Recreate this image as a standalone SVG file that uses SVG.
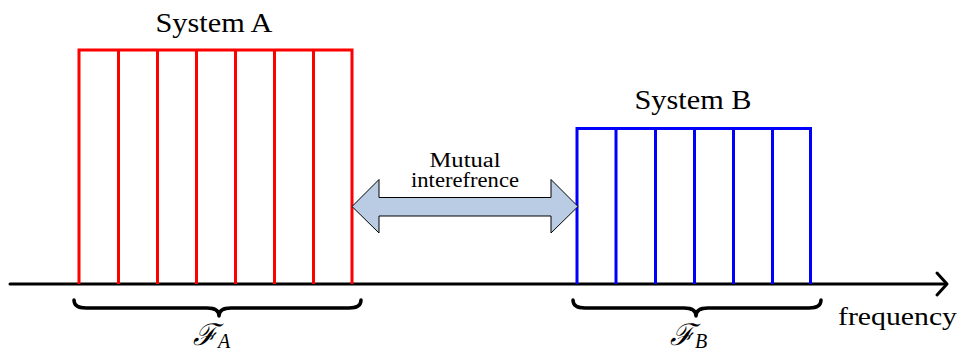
<svg xmlns="http://www.w3.org/2000/svg" width="960" height="355" viewBox="0 0 960 355">
<style>
.t{font-family:"Liberation Serif","DejaVu Serif",serif;fill:#000}
.ra{fill:none;stroke:#ff0000;stroke-width:3}
.rb{fill:none;stroke:#0000ff;stroke-width:3}
.br{fill:none;stroke:#000;stroke-width:3.5;stroke-linecap:round;stroke-linejoin:round}
.ax{fill:none;stroke:#000;stroke-width:3;stroke-linecap:round;stroke-linejoin:round}
</style>
<rect width="960" height="355" fill="#fff"/>
<g id="connectors">
<path class="ax" d="M10,284 H946"/>
<path class="ax" d="M937,273 L947,284 L937,295"/>
</g>
<g id="systemA">
<path class="ra" d="M79,284 V50 H352 V284 M118.5,50 V284 M157.5,50 V284 M196.5,50 V284 M235.5,50 V284 M274.5,50 V284 M313.5,50 V284"/>
<text class="t" x="214" y="32" font-size="27" text-anchor="middle" textLength="117" lengthAdjust="spacingAndGlyphs">System A</text>
</g>
<g id="systemB">
<path class="rb" d="M577,284 V128.5 H810.5 V284 M616,128.5 V284 M655.5,128.5 V284 M694.5,128.5 V284 M733.5,128.5 V284 M772.5,128.5 V284"/>
<text class="t" x="693" y="109" font-size="27" text-anchor="middle" textLength="117" lengthAdjust="spacingAndGlyphs">System B</text>
</g>
<g id="interference">
<path d="M352,206.5 L379,179.5 V197.5 H551 V179.5 L578,206.5 L551,233 V216 H379 V233 Z" fill="#b9cce4" stroke="#000" stroke-width="1"/>
<text class="t" x="465" y="167" font-size="20" text-anchor="middle" textLength="71" lengthAdjust="spacingAndGlyphs">Mutual</text>
<text class="t" x="465" y="187" font-size="20" text-anchor="middle" textLength="108" lengthAdjust="spacingAndGlyphs">interefrence</text>
</g>
<g id="braceA">
<path class="br" d="M74,300 Q74,308 86,308 H207 Q219,308 219,316 Q219,308 231,308 H349 Q361,308 361,300"/>
<text class="t" x="193" y="345" font-size="30" font-style="italic">ℱ<tspan font-size="20" dy="3">A</tspan></text>
</g>
<g id="braceB">
<path class="br" d="M573,300 Q573,308 585,308 H684 Q696,308 696,316 Q696,308 708,308 H809 Q821,308 821,300"/>
<text class="t" x="670" y="345" font-size="30" font-style="italic">ℱ<tspan font-size="20" dy="3">B</tspan></text>
</g>
<g id="axislabel">
<text class="t" x="838" y="325" font-size="26" textLength="119" lengthAdjust="spacingAndGlyphs">frequency</text>
</g>
</svg>
